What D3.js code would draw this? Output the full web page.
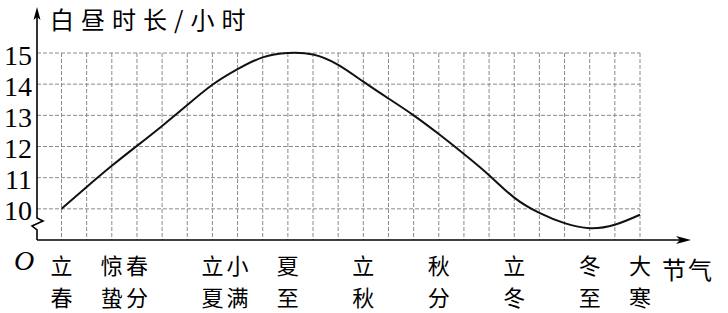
<!DOCTYPE html>
<html>
<head>
<meta charset="utf-8">
<script src="https://cdn.jsdelivr.net/npm/d3@7"></script>
<style>
  body { margin: 0; background: #fff; }
  svg { display: block; }
</style>
</head>
<body>
<div id="chart"></div>
<script>
// 24 solar terms, index 0 = 立春 ... 23 = 大寒
const terms = ["立春","雨水","惊蛰","春分","清明","谷雨","立夏","小满","芒种","夏至","小暑","大暑",
               "立秋","处暑","白露","秋分","寒露","霜降","立冬","小雪","大雪","冬至","小寒","大寒"];
// day length (hours) at each term
const hours = [10.0, 10.7, 11.38, 12.02, 12.66, 13.33, 13.98, 14.48, 14.86, 15.0, 14.95, 14.62,
               14.08, 13.54, 13.0, 12.4, 11.76, 11.08, 10.36, 9.87, 9.54, 9.38, 9.49, 9.81];
// terms that get a label under the axis
const labelled = ["立春","惊蛰","春分","立夏","小满","夏至","立秋","秋分","立冬","冬至","大寒"];
const yTicks = [10, 11, 12, 13, 14, 15];

const width = 728, height = 313;
const axisX = 37, axisY = 240;

const svg = d3.select("#chart").append("svg")
  .attr("width", width)
  .attr("height", height);

// scales - the x axis line sits one unit below 10 (axis is broken)
const x = d3.scaleLinear().domain([0, terms.length - 1]).range([61.5, 640]);
const y = d3.scaleLinear().domain([9, 15]).range([axisY, 53]);

const grid = svg.append("g")
  .attr("stroke", "#8a8a8a")
  .attr("stroke-width", 1)
  .attr("stroke-dasharray", "4,2");

// horizontal grid lines
grid.selectAll("line.h")
  .data(yTicks)
  .enter().append("line")
    .attr("class", "h")
    .attr("x1", axisX).attr("x2", x(terms.length - 1))
    .attr("y1", d => y(d)).attr("y2", d => y(d));

// vertical grid lines, one per term
grid.selectAll("line.v")
  .data(terms)
  .enter().append("line")
    .attr("class", "v")
    .attr("x1", (d, i) => x(i)).attr("x2", (d, i) => x(i))
    .attr("y1", y(15)).attr("y2", axisY);

// y tick labels
svg.selectAll("text.ytick")
  .data(yTicks)
  .enter().append("text")
    .attr("class", "ytick")
    .attr("x", 32)
    .attr("y", d => y(d) + 2)
    .attr("text-anchor", "end")
    .attr("dominant-baseline", "central")
    .style("font-family", "'Liberation Serif', serif")
    .style("font-size", "28px")
    .text(d => d);

// y axis with break mark
svg.append("path")
  .attr("d", `M${axisX},${axisY} L${axisX},230 L32,226 L43,221 L${axisX},218 L${axisX},14`)
  .attr("fill", "none")
  .attr("stroke", "#000")
  .attr("stroke-width", 1.6);

// x axis
svg.append("line")
  .attr("x1", axisX).attr("x2", 684)
  .attr("y1", axisY).attr("y2", axisY)
  .attr("stroke", "#000")
  .attr("stroke-width", 1.6);

// arrow heads
svg.append("path")
  .attr("d", `M${axisX},7 L${axisX + 3.5},20 L${axisX},17 L${axisX - 3.5},20 Z`)
  .attr("fill", "#000");
svg.append("path")
  .attr("d", `M691,${axisY} L676,${axisY - 4} L680,${axisY} L676,${axisY + 4} Z`)
  .attr("fill", "#000");

// the curve
const line = d3.line()
  .x((d, i) => x(i))
  .y(d => y(d))
  .curve(d3.curveNatural);

svg.append("path")
  .datum(hours)
  .attr("d", line)
  .attr("fill", "none")
  .attr("stroke", "#111")
  .attr("stroke-width", 2);

// title
svg.append("text")
  .attr("x", 50)
  .attr("y", 18)
  .attr("dominant-baseline", "central")
  .style("font-family", "'Noto Sans CJK SC', sans-serif")
  .style("font-size", "24px")
  .style("letter-spacing", "7px")
  .text("白昼时长/小时");

// origin
svg.append("text")
  .attr("x", 24)
  .attr("y", 260)
  .attr("text-anchor", "middle")
  .attr("dominant-baseline", "central")
  .style("font-family", "'Liberation Serif', serif")
  .style("font-style", "italic")
  .style("font-size", "28px")
  .text("O");

// x labels, two characters stacked
const xl = svg.append("g")
  .style("font-family", "'Noto Sans CJK SC', sans-serif")
  .style("font-size", "22px")
  .attr("text-anchor", "middle");

labelled.forEach(function(t) {
  const i = terms.indexOf(t);
  xl.append("text")
    .attr("x", x(i)).attr("y", 264)
    .attr("dominant-baseline", "central")
    .text(t[0]);
  xl.append("text")
    .attr("x", x(i)).attr("y", 296)
    .attr("dominant-baseline", "central")
    .text(t[1]);
});

svg.append("text")
  .attr("x", 662)
  .attr("y", 268)
  .attr("dominant-baseline", "central")
  .style("font-family", "'Noto Sans CJK SC', sans-serif")
  .style("font-size", "24px")
  .style("letter-spacing", "2px")
  .text("节气");
</script>
</body>
</html>
